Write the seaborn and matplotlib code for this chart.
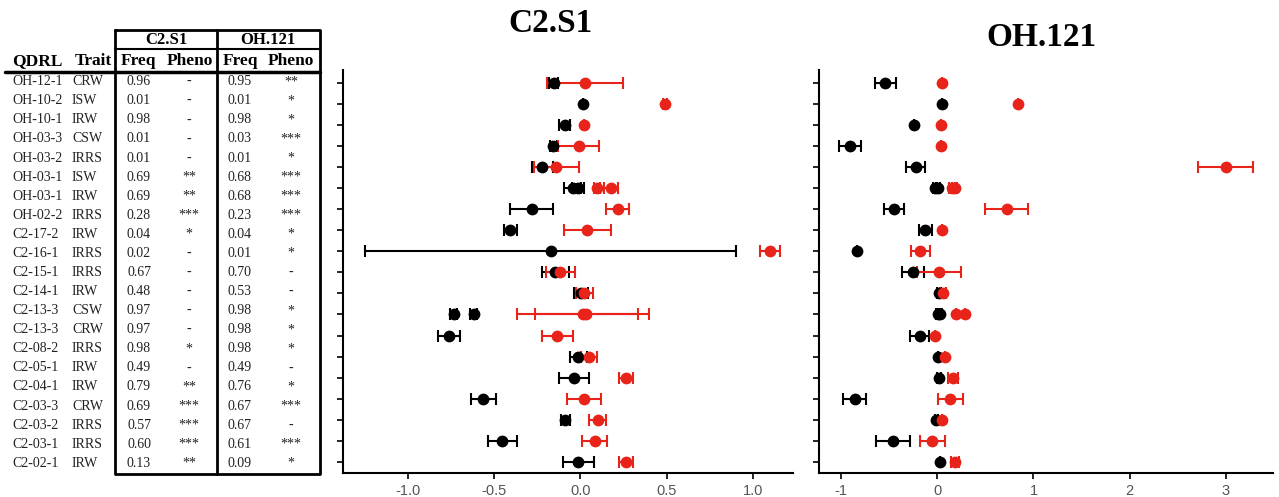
import numpy as np
import pandas as pd
import seaborn as sns
import matplotlib.pyplot as plt

# table rows (one per QDRL x trait)
qdrl = ['OH-12-1', 'OH-10-2', 'OH-10-1', 'OH-03-3', 'OH-03-2', 'OH-03-1', 'OH-03-1',
        'OH-02-2', 'C2-17-2', 'C2-16-1', 'C2-15-1', 'C2-14-1', 'C2-13-3', 'C2-13-3',
        'C2-08-2', 'C2-05-1', 'C2-04-1', 'C2-03-3', 'C2-03-2', 'C2-03-1', 'C2-02-1']
trait = ['CRW', 'ISW', 'IRW', 'CSW', 'IRRS', 'ISW', 'IRW', 'IRRS', 'IRW', 'IRRS', 'IRRS',
         'IRW', 'CSW', 'CRW', 'IRRS', 'IRW', 'IRW', 'CRW', 'IRRS', 'IRRS', 'IRW']
c2_freq = [0.96, 0.01, 0.98, 0.01, 0.01, 0.69, 0.69, 0.28, 0.04, 0.02, 0.67,
           0.48, 0.97, 0.97, 0.98, 0.49, 0.79, 0.69, 0.57, 0.60, 0.13]
c2_pheno = ['-', '-', '-', '-', '-', '**', '**', '***', '*', '-', '-',
            '-', '-', '-', '*', '-', '**', '***', '***', '***', '**']
oh_freq = [0.95, 0.01, 0.98, 0.03, 0.01, 0.68, 0.68, 0.23, 0.04, 0.01, 0.70,
           0.53, 0.98, 0.98, 0.98, 0.49, 0.76, 0.67, 0.67, 0.61, 0.09]
oh_pheno = ['**', '*', '*', '***', '*', '***', '***', '***', '*', '*', '-',
            '-', '*', '*', '*', '-', '*', '***', '-', '***', '*']

# effect estimates +/- error, aligned with table rows
c2_black_est = [-0.154, 0.015, -0.092, -0.158, -0.22, -0.045, -0.015, -0.283, -0.405, -0.173, -0.145,
                0.004, -0.732, -0.617, -0.761, -0.013, -0.039, -0.563, -0.087, -0.452, -0.013]
c2_black_err = [0.027, 0.0, 0.034, 0.02, 0.063, 0.05, 0.035, 0.122, 0.035, 1.075, 0.08,
                0.04, 0.02, 0.02, 0.062, 0.05, 0.087, 0.072, 0.025, 0.085, 0.089]
c2_red_est = [0.029, 0.49, 0.023, -0.01, -0.139, 0.096, 0.179, 0.216, 0.039, 1.098, -0.116,
              0.023, 0.015, 0.035, -0.135, 0.05, 0.264, 0.023, 0.1, 0.083, 0.264]
c2_red_err = [0.22, 0.012, 0.0, 0.118, 0.13, 0.015, 0.04, 0.067, 0.137, 0.058, 0.082,
              0.048, 0.38, 0.3, 0.09, 0.048, 0.04, 0.098, 0.048, 0.072, 0.04]

oh_black_est = [-0.539, 0.047, -0.245, -0.903, -0.224, -0.02, 0.005, -0.449, -0.123, -0.834, -0.252,
                0.019, 0.01, 0.03, -0.182, 0.009, 0.019, -0.858, -0.008, -0.46, 0.026]
oh_black_err = [0.109, 0.0, 0.0, 0.114, 0.1, 0.02, 0.02, 0.106, 0.07, 0.0, 0.111,
                0.02, 0.02, 0.02, 0.1, 0.0, 0.02, 0.118, 0.02, 0.173, 0.0]
oh_red_est = [0.054, 0.841, 0.04, 0.04, 2.999, 0.15, 0.18, 0.72, 0.054, -0.175, 0.019,
              0.06, 0.2, 0.293, -0.026, 0.078, 0.165, 0.137, 0.054, -0.05, 0.182]
oh_red_err = [0.0, 0.0, 0.0, 0.0, 0.286, 0.03, 0.03, 0.222, 0.0, 0.102, 0.227,
              0.03, 0.0, 0.0, 0.0, 0.0, 0.05, 0.127, 0.0, 0.127, 0.04]

RED = '#e8231a'
SERIF = 'Liberation Serif'

sns.set_theme(style='ticks')
plt.rcParams['font.family'] = ['Liberation Sans', 'DejaVu Sans']
plt.rcParams['text.color'] = 'black'

W, H = 1279, 497
fig = plt.figure(figsize=(W / 100, H / 100), dpi=100)

# ---- table on the left, drawn in pixel coordinates
tab = fig.add_axes([0, 0, 330 / W, 1])
tab.set_xlim(0, 330)
tab.set_ylim(H, 0)
tab.axis('off')

box_l, box_m, box_r, box_t, box_b = 115, 216.7, 320, 30, 474
tab.plot([box_l, box_r, box_r, box_l, box_l], [box_t, box_t, box_b, box_b, box_t], color='black', lw=2)
tab.plot([box_m, box_m], [box_t, box_b], color='black', lw=2)
tab.plot([box_l, box_r], [49.3, 49.3], color='black', lw=1.5)
tab.plot([5, box_r], [71.7, 71.7], color='black', lw=2.5)

hdr = dict(family=SERIF, fontweight='bold', ha='center', va='center', color='black')
tab.text(166, 39.5, 'C2.S1', fontsize=12, **hdr)
tab.text(268, 39.5, 'OH.121', fontsize=12, **hdr)
for x, s in zip([37, 93, 138, 190, 240, 291], ['QDRL', 'Trait', 'Freq', 'Pheno', 'Freq', 'Pheno']):
    tab.text(x, 61, s, fontsize=12.5, **hdr)

cell = dict(family=SERIF, fontsize=10, va='center', color='#222222')
row_y = 81.7 + 19.08 * np.arange(len(qdrl))
for i, y in enumerate(row_y):
    tab.text(12, y, qdrl[i], ha='left', **cell)
    tab.text(72, y, trait[i], ha='left', **cell)
    tab.text(139, y, f'{c2_freq[i]:.2f}', ha='center', **cell)
    tab.text(189, y, c2_pheno[i], ha='center', **cell)
    tab.text(240, y, f'{oh_freq[i]:.2f}', ha='center', **cell)
    tab.text(291, y, oh_pheno[i], ha='center', **cell)

# ---- forest panels
qdrl_order = list(dict.fromkeys(qdrl))
pos = [qdrl_order.index(q) for q in qdrl]


def panel(rect, black_est, black_err, red_est, red_err, xlim, xticks, xticklabels):
    ax = fig.add_axes(rect)
    for est, err, col in [(black_est, black_err, 'black'), (red_est, red_err, RED)]:
        df = pd.DataFrame({'est': est, 'err': err, 'pos': pos})
        ax.errorbar(df['est'], df['pos'], xerr=df['err'], fmt='none', ecolor=col,
                    elinewidth=1.5, capsize=4, capthick=1.5, zorder=2)
        sns.scatterplot(data=df, x='est', y='pos', color=col, s=72, linewidth=0,
                        ax=ax, zorder=3, legend=False)
    ax.set_xlim(*xlim)
    ax.set_ylim(len(qdrl_order) - 0.46, -0.63)
    ax.set_yticks(range(len(qdrl_order)))
    ax.set_yticklabels([])
    ax.set_xticks(xticks)
    ax.set_xticklabels(xticklabels)
    ax.set_xlabel('')
    ax.set_ylabel('')
    sns.despine(ax=ax)
    for sp in ['left', 'bottom']:
        ax.spines[sp].set_linewidth(1.5)
        ax.spines[sp].set_color('black')
    ax.tick_params(axis='both', length=4, width=1.2, color='black', direction='out')
    ax.tick_params(axis='x', labelsize=10.5, labelcolor='#555555', pad=4)
    return ax


bottom, height = 24 / H, 403 / H
panel([343 / W, bottom, 450 / W, height], c2_black_est, c2_black_err, c2_red_est, c2_red_err,
      (-1.374, 1.23), [-1.0, -0.5, 0.0, 0.5, 1.0], ['-1.0', '-0.5', '0.0', '0.5', '1.0'])
panel([819.3 / W, bottom, 453.7 / W, height], oh_black_est, oh_black_err, oh_red_est, oh_red_err,
      (-1.225, 3.488), [-1, 0, 1, 2, 3], ['-1', '0', '1', '2', '3'])

fig.text(551 / W, 1 - 24 / H, 'C2.S1', ha='center', va='center', fontsize=24,
         fontweight='bold', family=SERIF, color='black')
fig.text(1041 / W, 1 - 38 / H, 'OH.121', ha='center', va='center', fontsize=24,
         fontweight='bold', family=SERIF, color='black')

fig.savefig('out.png', dpi=100)
